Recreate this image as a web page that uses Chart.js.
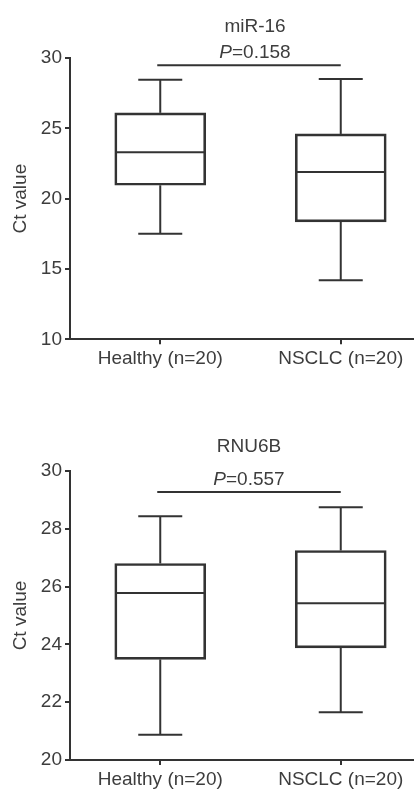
<!DOCTYPE html>
<html>
<head>
<meta charset="utf-8">
<script src="https://cdn.jsdelivr.net/npm/chart.js@4.4.1/dist/chart.umd.min.js"></script>
<style>
    html, body { margin: 0; padding: 0; background: #fff; overflow: hidden; width: 414px; height: 791px; }
    #wrapMir16 { position: absolute; left: 0; top: 0; width: 440px; height: 390px; }
    #wrapRnu6b { position: absolute; left: 0; top: 390px; width: 440px; height: 401px; }
</style>
</head>
<body>
<div id="wrapMir16"><canvas id="graphMir16" width="440" height="390"></canvas></div>
<div id="wrapRnu6b"><canvas id="graphRnu6b" width="440" height="401"></canvas></div>
<script>
var categories = ['Healthy (n=20)', 'NSCLC (n=20)'];

// miR-16 : min, Q1, median, Q3, max per group
var mir16Min = [17.5, 14.2];
var mir16Q1 = [20.95, 18.35];
var mir16Median = [23.3, 21.9];
var mir16Q3 = [26.1, 24.6];
var mir16Max = [28.45, 28.5];
var mir16Ticks = [10, 15, 20, 25, 30];
var mir16SigY = 29.48;
var mir16P = '0.158';

// RNU6B
var rnu6bMin = [20.87, 21.65];
var rnu6bQ1 = [23.48, 23.88];
var rnu6bMedian = [25.78, 25.42];
var rnu6bQ3 = [26.8, 27.25];
var rnu6bMax = [28.43, 28.75];
var rnu6bTicks = [20, 22, 24, 26, 28, 30];
var rnu6bSigY = 29.27;
var rnu6bP = '0.557';

var lineColor = '#333333';
var textColor = '#3d3d3d';
var fontFamily = '"Liberation Sans", Arial, Helvetica, sans-serif';

function drawLine(ctx, x1, y1, x2, y2) {
    ctx.beginPath();
    ctx.moveTo(x1, y1);
    ctx.lineTo(x2, y2);
    ctx.stroke();
}

var boxExtras = {
    id: 'boxExtras',
    afterDatasetsDraw: function (chart, args, opts) {
        var ctx = chart.ctx;
        var xs = chart.scales.x;
        var ys = chart.scales.y;
        ctx.save();
        ctx.strokeStyle = lineColor;
        ctx.lineWidth = 2;
        ctx.lineCap = 'butt';

        for (var i = 0; i < opts.median.length; i++) {
            var cx = xs.getPixelForValue(i);
            var halfBox = 44.5;
            var halfCap = 22;
            var yMed = ys.getPixelForValue(opts.median[i]);
            drawLine(ctx, cx - halfBox, yMed, cx + halfBox, yMed);
            // whiskers
            drawLine(ctx, cx, ys.getPixelForValue(opts.q3[i]), cx, ys.getPixelForValue(opts.max[i]));
            drawLine(ctx, cx, ys.getPixelForValue(opts.q1[i]), cx, ys.getPixelForValue(opts.min[i]));
            var yMax = ys.getPixelForValue(opts.max[i]);
            var yMin = ys.getPixelForValue(opts.min[i]);
            drawLine(ctx, cx - halfCap, yMax, cx + halfCap, yMax);
            drawLine(ctx, cx - halfCap, yMin, cx + halfCap, yMin);
        }

        // significance bar
        var x1 = xs.getPixelForValue(0) - 3;
        var x2 = xs.getPixelForValue(1);
        var ySig = ys.getPixelForValue(opts.sigY);
        drawLine(ctx, x1, ySig, x2, ySig);

        var mid = (x1 + x2) / 2 + opts.textShift;
        ctx.fillStyle = textColor;
        ctx.textBaseline = 'alphabetic';
        ctx.textAlign = 'left';

        ctx.font = '19px ' + fontFamily;
        var wTitle = ctx.measureText(opts.title).width;
        ctx.fillText(opts.title, mid - wTitle / 2, opts.titleBase);

        ctx.font = 'italic 19px ' + fontFamily;
        var wP = ctx.measureText('P').width;
        ctx.font = '19px ' + fontFamily;
        var rest = '=' + opts.p;
        var wRest = ctx.measureText(rest).width;
        var start = mid - (wP + wRest) / 2;
        ctx.font = 'italic 19px ' + fontFamily;
        ctx.fillText('P', start, opts.pBase);
        ctx.font = '19px ' + fontFamily;
        ctx.fillText(rest, start + wP, opts.pBase);
        ctx.restore();
    }
};

function afficheBoxPlot(canvasId, q1, q3, extras, yTicks, padTop, padBottom) {
    var boxes = [];
    for (var i = 0; i < q1.length; i++) {
        boxes.push([q1[i], q3[i]]);
    }
    return new Chart(document.getElementById(canvasId).getContext('2d'), {
        type: 'bar',
        data: {
            labels: categories,
            datasets: [{
                data: boxes,
                backgroundColor: 'rgba(255,255,255,0)',
                borderColor: lineColor,
                borderWidth: 2,
                borderSkipped: false,
                barThickness: 91
            }]
        },
        options: {
            responsive: false,
            animation: false,
            layout: { padding: { top: padTop, bottom: padBottom, left: 0, right: 9 } },
            plugins: {
                legend: { display: false },
                tooltip: { enabled: false },
                title: { display: false },
                boxExtras: extras
            },
            scales: {
                x: {
                    offset: true,
                    grid: { display: true, drawOnChartArea: false, offset: false, tickLength: 5, color: lineColor, lineWidth: 2 },
                    border: { display: true, color: lineColor, width: 2 },
                    ticks: { color: textColor, padding: 3, font: { family: fontFamily, size: 19 }, maxRotation: 0 },
                    afterFit: function (scale) { scale.height = 30; }
                },
                y: {
                    min: yTicks[0],
                    max: yTicks[yTicks.length - 1],
                    afterBuildTicks: function (scale) {
                        scale.ticks = yTicks.map(function (v) { return { value: v }; });
                    },
                    grid: { display: true, drawOnChartArea: false, tickLength: 5, color: lineColor, lineWidth: 2 },
                    border: { display: true, color: lineColor, width: 2 },
                    ticks: { color: textColor, padding: 3, font: { family: fontFamily, size: 19 } },
                    title: {
                        display: true,
                        text: 'Ct value',
                        color: textColor,
                        font: { family: fontFamily, size: 19 },
                        padding: { top: 9, bottom: 0 }
                    },
                    afterFit: function (scale) { scale.width = 70; }
                }
            }
        },
        plugins: [boxExtras]
    });
}

afficheBoxPlot('graphMir16', mir16Q1, mir16Q3, {
    min: mir16Min, q1: mir16Q1, median: mir16Median, q3: mir16Q3, max: mir16Max,
    sigY: mir16SigY, p: mir16P, title: 'miR-16', titleBase: 31.5, pBase: 58, textShift: 6
}, mir16Ticks, 58, 20.7);

afficheBoxPlot('graphRnu6b', rnu6bQ1, rnu6bQ3, {
    min: rnu6bMin, q1: rnu6bQ1, median: rnu6bMedian, q3: rnu6bQ3, max: rnu6bMax,
    sigY: rnu6bSigY, p: rnu6bP, title: 'RNU6B', titleBase: 61.5, pBase: 95, textShift: 0
}, rnu6bTicks, 81, 1);
</script>
</body>
</html>
